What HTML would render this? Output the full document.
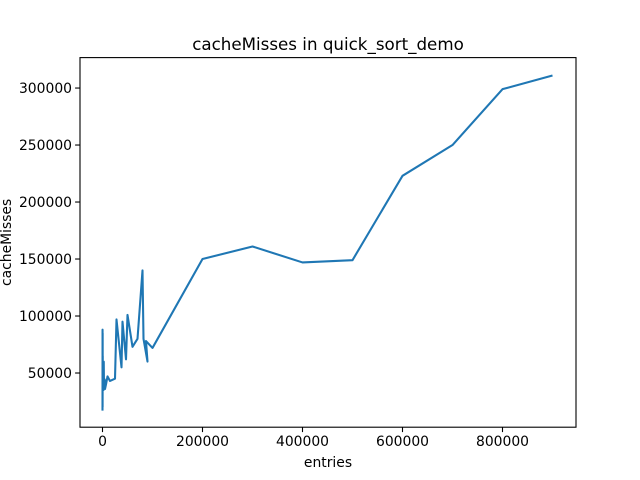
<!DOCTYPE html>
<html><head><meta charset="utf-8"><style>
body{margin:0;background:#fff;}
svg{display:block;font-family:"DejaVu Sans","Liberation Sans",sans-serif;}
</style></head><body>
<svg id="chart" width="640" height="480">
<rect width="640" height="480" fill="#fff"/>
<g id="plot"></g>
</svg>
<script>
const entries=[0,100,200,300,400,500,600,700,800,900,1000,1500,2000,2500,3000,3500,4000,4500,5000,7000,10000,15000,25000,28000,38000,40000,47000,50000,60000,70000,80000,82000,90000,87000,100000,200000,300000,400000,500000,600000,700000,800000,900000];
const cacheMisses=[17000,88000,20000,85000,34000,65000,36000,60000,38000,55000,40000,50000,35000,60000,37000,45000,38000,44000,36000,40000,47000,43000,45000,97000,55000,95000,62000,101000,73000,80000,140000,80000,60000,78000,72000,150000,161000,147000,149000,223000,250000,299000,311000];
const xTicks=[0,200000,400000,600000,800000];
const yTicks=[50000,100000,150000,200000,250000,300000];
const L=80,R=576,T=57.6,B=427.2;
const xMin=-45000,xMax=947000,yMin=2460,yMax=326700;
const sx=v=>L+(v-xMin)/(xMax-xMin)*(R-L);
const sy=v=>B-(v-yMin)/(yMax-yMin)*(B-T);
const NS="http://www.w3.org/2000/svg";
const g=document.getElementById('plot');
function mk(t,a,txt){const e=document.createElementNS(NS,t);for(const k in a)e.setAttribute(k,a[k]);if(txt!==undefined)e.textContent=txt;g.appendChild(e);return e;}
let d=entries.map((x,i)=>(i?'L':'M')+sx(x).toFixed(2)+' '+sy(cacheMisses[i]).toFixed(2)).join(' ');
const line=mk('path',{d:d,fill:'none',stroke:'#1f77b4','stroke-width':2.08,'stroke-linejoin':'round'});


const frame=mk('rect',{x:L,y:T,width:R-L,height:B-T,fill:'none',stroke:'#000','stroke-width':1.1});


xTicks.forEach(v=>{const x=sx(v);
mk('line',{x1:x,x2:x,y1:B,y2:B+4.9,stroke:'#000','stroke-width':1.1});
const t=mk('text',{x:x,y:B+19,'font-size':13.9,'text-anchor':'middle'},String(v));

});
yTicks.forEach(v=>{const y=sy(v);
mk('line',{x1:L,x2:L-4.9,y1:y,y2:y,stroke:'#000','stroke-width':1.1});
const t=mk('text',{x:L-8,y:y+5,'font-size':13.9,'text-anchor':'end'},String(v));

});
const ti=mk('text',{x:(L+R)/2,y:50,'font-size':16.7,'text-anchor':'middle'},'cacheMisses in quick_sort_demo');


const xl=mk('text',{x:(L+R)/2,y:467,'font-size':13.9,'text-anchor':'middle'},'entries');


const yl=mk('text',{x:0,y:0,'font-size':13.9,'text-anchor':'middle',transform:'translate(11,'+((T+B)/2)+') rotate(-90)'},'cacheMisses');


</script>
</body></html>
